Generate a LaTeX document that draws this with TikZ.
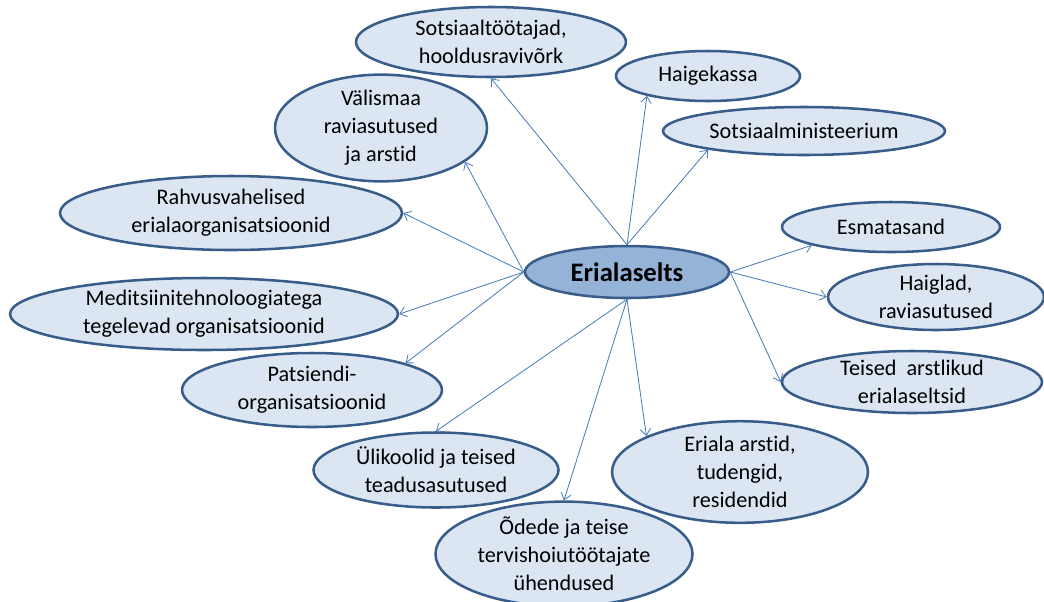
\documentclass[tikz,border=0pt]{standalone}
\usepackage{fontspec}
\setmainfont{Carlito}[Ligatures=NoCommon]
\usetikzlibrary{shapes.geometric,arrows.meta}

\definecolor{ellfill}{HTML}{DCE6F2}
\definecolor{ellline}{HTML}{385D8A}
\definecolor{midfill}{HTML}{95B3D7}
\definecolor{arrline}{HTML}{4A7EBB}

\tikzset{
  org/.style 2 args={ellipse, draw=ellline, fill=ellfill, line width=1.8pt,
    inner sep=0pt, align=center, minimum width=#1*0.025cm, minimum height=#2*0.025cm,
    font=\fontsize{15.8}{20}\selectfont},
  link/.style={-{Straight Barb[length=1.6mm,width=2.6mm]}, draw=arrline, line width=0.6pt}
}

\begin{document}
\begin{tikzpicture}[x=0.025cm, y=-0.025cm]
\useasboundingbox (0,0) rectangle (1044,601);

\node [org={204}{52}, fill=midfill, font=\fontsize{19}{22}\selectfont\bfseries] (ers) at (627,272) {Erialaselts};

% ylemised
\node [org={270}{70}] (sots) at (491,42) {Sotsiaaltöötajad,\\hooldusravivõrk};
\node [org={184}{50}] (haige) at (708,76) {Haigekassa};
\node [org={282}{48}] (minist) at (804,131) {Sotsiaalministeerium};

% vasakul
\node [org={212}{94}] (valis) at (381,128) {Välismaa\\raviasutused\\ja arstid};
\node [org={342}{74}] (rahvus) at (231,213) {Rahvusvahelised\\erialaorganisatsioonid};
\node [org={388}{72}] (medtech) at (204,314) {Meditsiinitehnoloogiatega\\tegelevad organisatsioonid};
\node [org={260}{74}] (patsient) at (312,390) {Patsiendi-\\organisatsioonid};

% all
\node [org={245}{75}] (ylikool) at (436,470) {Ülikoolid ja teised\\teadusasutused};
\node [org={257}{94}] (odede) at (564,554) {Õdede ja teise\\tervishoiutöötajate\\ühendused};
\node [org={256}{90}] (eriala) at (740,472) {Eriala arstid,\\tudengid,\\residendid};

% paremal
\node [org={218}{50}] (esmat) at (891,227) {Esmatasand};
\node [org={216}{66}] (haiglad) at (936,297) {Haiglad,\\raviasutused};
\node [org={260}{62}] (teised) at (912,382) {Teised~~arstlikud\\erialaseltsid};

\draw [link] (ers.north) -- (sots.south);
\draw [link] (ers.north) -- (haige.198);
\draw [link] (ers.north) -- (minist.191);

\draw [link] (ers.west) -- (valis.338);
\draw [link] (ers.west) -- (rahvus.east);
\draw [link] (ers.west) -- (medtech.east);
\draw [link] (ers.west) -- (patsient.16);

\draw [link] (ers.south) -- (ylikool.north);
\draw [link] (ers.south) -- (odede.north);
\draw [link] (ers.south) -- (eriala.159);

\draw [link] (ers.east) -- (esmat.193);
\draw [link] (ers.east) -- (haiglad.west);
\draw [link] (ers.east) -- (teised.west);
\end{tikzpicture}
\end{document}
